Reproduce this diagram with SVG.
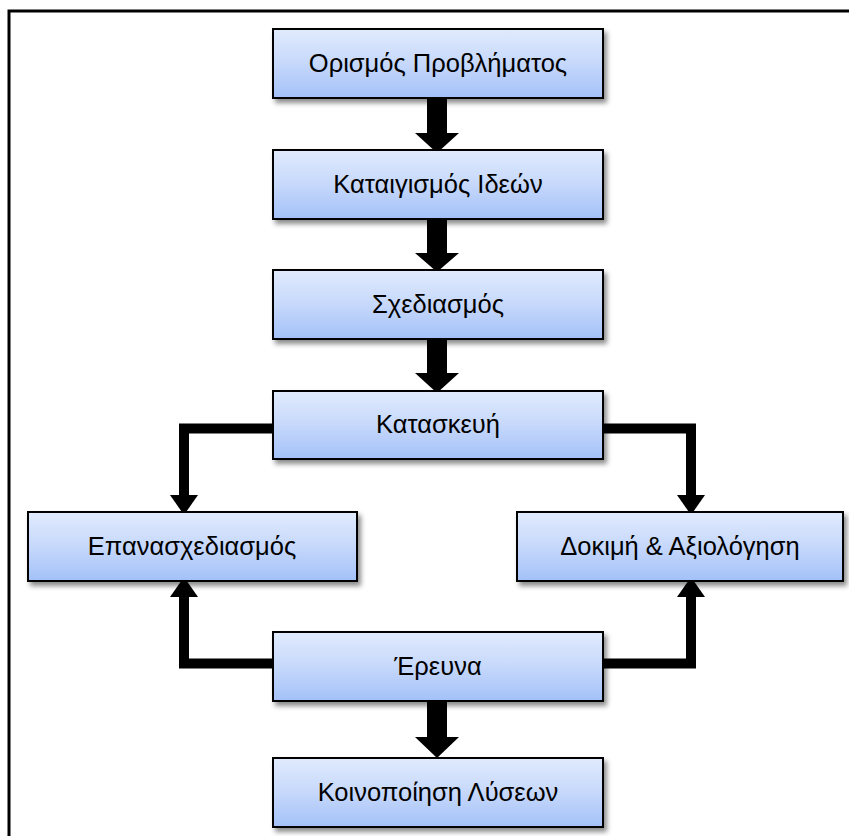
<svg xmlns="http://www.w3.org/2000/svg" width="849" height="836" viewBox="0 0 849 836">
<defs>
<linearGradient id="g" x1="0" y1="0" x2="0" y2="1">
<stop offset="0" stop-color="#e1ebfd"/>
<stop offset="0.5" stop-color="#c6d8fb"/>
<stop offset="1" stop-color="#a3c1f8"/>
</linearGradient>
<filter id="sh" x="-10%" y="-10%" width="130%" height="140%">
<feDropShadow dx="3" dy="4" stdDeviation="2.5" flood-color="#000" flood-opacity="0.45"/>
</filter>
<style>
.box{fill:url(#g);stroke:#000;stroke-width:2;filter:url(#sh)}
.t{font-family:"Liberation Sans","Noto Sans",sans-serif;font-size:25.5px;fill:#000;text-anchor:middle}
.c{fill:none;stroke:#000;stroke-width:10;stroke-linejoin:miter}
.h{fill:#000}
</style>
</defs>
<rect width="849" height="836" fill="#fff"/>
<g id="frame">
<path d="M9,836 V11 H849" fill="none" stroke="#000" stroke-width="3"/>
</g>
<g id="connectors">
<rect class="h" x="427" y="98" width="20" height="36"/>
<polygon class="h" points="415,133 459,133 437,153"/>
<rect class="h" x="427" y="219" width="20" height="35"/>
<polygon class="h" points="415,253 459,253 437,272"/>
<rect class="h" x="427" y="339" width="20" height="35"/>
<polygon class="h" points="415,373 459,373 437,393"/>
<rect class="h" x="427" y="701" width="20" height="37"/>
<polygon class="h" points="415,737 459,737 437,758"/>
<polyline class="c" points="273,428.5 184,428.5 184,496"/>
<polygon class="h" points="170,495 198,495 184,515"/>
<polyline class="c" points="603,428.5 691,428.5 691,496"/>
<polygon class="h" points="677,495 705,495 691,515"/>
<polyline class="c" points="273,663.5 184,663.5 184,596"/>
<polygon class="h" points="170,597 198,597 184,577"/>
<polyline class="c" points="603,663.5 691,663.5 691,596"/>
<polygon class="h" points="677,597 705,597 691,577"/>
</g>
<g id="n1"><rect class="box" x="273" y="29" width="330" height="69"/><text class="t" x="438" y="72">Ορισμός Προβλήματος</text></g>
<g id="n2"><rect class="box" x="273" y="150" width="330" height="69"/><text class="t" x="438" y="193">Καταιγισμός Ιδεών</text></g>
<g id="n3"><rect class="box" x="273" y="270" width="330" height="69"/><text class="t" x="438" y="313">Σχεδιασμός</text></g>
<g id="n4"><rect class="box" x="273" y="391" width="330" height="68"/><text class="t" x="438" y="433">Κατασκευή</text></g>
<g id="n5"><rect class="box" x="28" y="512" width="329" height="69"/><text class="t" x="192" y="555">Επανασχεδιασμός</text></g>
<g id="n6"><rect class="box" x="517" y="512" width="326" height="69"/><text class="t" x="680" y="555">Δοκιμή &amp; Αξιολόγηση</text></g>
<g id="n7"><rect class="box" x="273" y="632" width="330" height="69"/><text class="t" x="438" y="675">Έρευνα</text></g>
<g id="n8"><rect class="box" x="273" y="758" width="330" height="69"/><text class="t" x="438" y="801">Κοινοποίηση Λύσεων</text></g>
</svg>
